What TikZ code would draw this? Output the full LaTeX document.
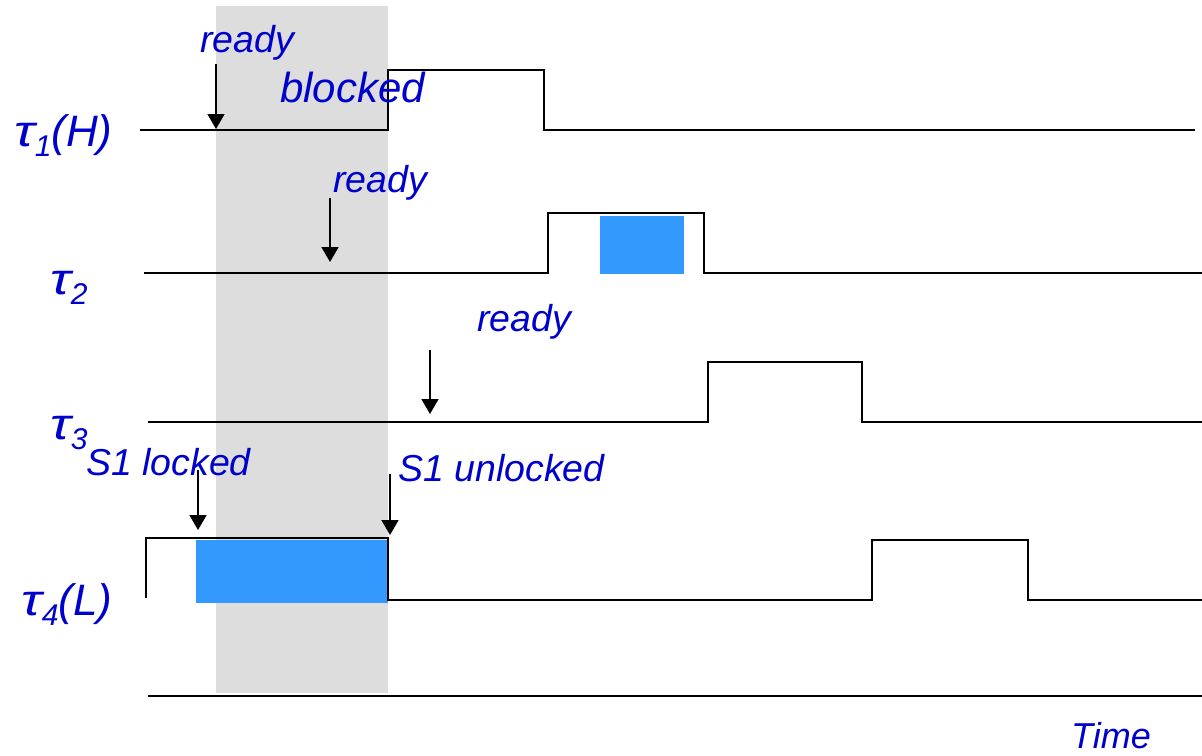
\documentclass[tikz,border=0pt]{standalone}
\usepackage{fontspec}
\setmainfont{Liberation Sans}
\usetikzlibrary{arrows.meta}
\definecolor{lblblue}{HTML}{0000CC}
\definecolor{critblue}{HTML}{3399FF}
\definecolor{blockgray}{HTML}{DDDDDD}
\newcommand{\tasklbl}[3]{{\fontsize{44}{44}\selectfont\itshape\scalebox{1.25}[1]{#1}\raisebox{-10pt}{\fontsize{30}{30}\selectfont #2}#3}}
\begin{document}
\begin{tikzpicture}[x=1pt,y=-1pt,
  signal/.style={line width=1.6pt, line join=miter},
  evarrow/.style={line width=1.5pt, -{Triangle[width=17pt,length=15pt]}},
  lbl/.style={text=lblblue, inner sep=0pt, anchor=base west, font=\fontsize{37.5}{37.5}\selectfont\itshape},
  tlbl/.style={text=lblblue, inner sep=0pt, anchor=base west}]
\useasboundingbox (0,0) rectangle (1202,755);

% blocking interval of the high-priority task
\fill[blockgray] (216,6) rectangle (388,693);

% critical sections
\fill[critblue] (196,540) rectangle (388,603);
\fill[critblue] (600,216) rectangle (684,274);

% task timelines
\draw[signal] (140,130) -- (388,130) -- (388,70) -- (544,70) -- (544,130) -- (1195,130);
\draw[signal] (144,273) -- (548,273) -- (548,213) -- (704,213) -- (704,273) -- (1202,273);
\draw[signal] (148,422) -- (708,422) -- (708,362) -- (862,362) -- (862,422) -- (1202,422);
\draw[signal] (146,598) -- (146,538) -- (388,538) -- (388,600) -- (872,600) -- (872,540) -- (1028,540) -- (1028,600) -- (1202,600);
\draw[signal] (148,696) -- (1202,696);

% event markers
\coordinate (r1s) at (216,64);  \coordinate (r1e) at (216,129);
\coordinate (r2s) at (330,198); \coordinate (r2e) at (330,262);
\coordinate (r3s) at (430,350); \coordinate (r3e) at (430,414);
\coordinate (lks) at (198,470); \coordinate (lke) at (198,530);
\coordinate (uls) at (390,474); \coordinate (ule) at (390,535);
\draw[evarrow] (r1s) -- (r1e);
\draw[evarrow] (r2s) -- (r2e);
\draw[evarrow] (r3s) -- (r3e);
\draw[evarrow] (lks) -- (lke);
\draw[evarrow] (uls) -- (ule);

% annotations
\node[lbl] (ready1) at (200,52) {ready};
\node[lbl, font=\fontsize{42}{42}\selectfont\itshape] (blocked) at (280,102) {blocked};
\node[lbl] (ready2) at (333,192) {ready};
\node[lbl] (ready3) at (477,331) {ready};
\node[lbl] (locked) at (86,475) {S1 locked};
\node[lbl] (unlocked) at (398,481) {S1 unlocked};
\node[lbl, font=\fontsize{36}{36}\selectfont\itshape] (time) at (1071,748) {Time};

% task names
\node[tlbl] (t1) at (14,146) {\tasklbl{τ}{1}{(H)}};
\node[tlbl] (t2) at (50,294) {\tasklbl{τ}{2}{}};
\node[tlbl] (t3) at (50,439) {\tasklbl{τ}{3}{}};
\node[tlbl] (t4) at (21,615) {\tasklbl{τ}{4}{(L)}};
\end{tikzpicture}
\end{document}
